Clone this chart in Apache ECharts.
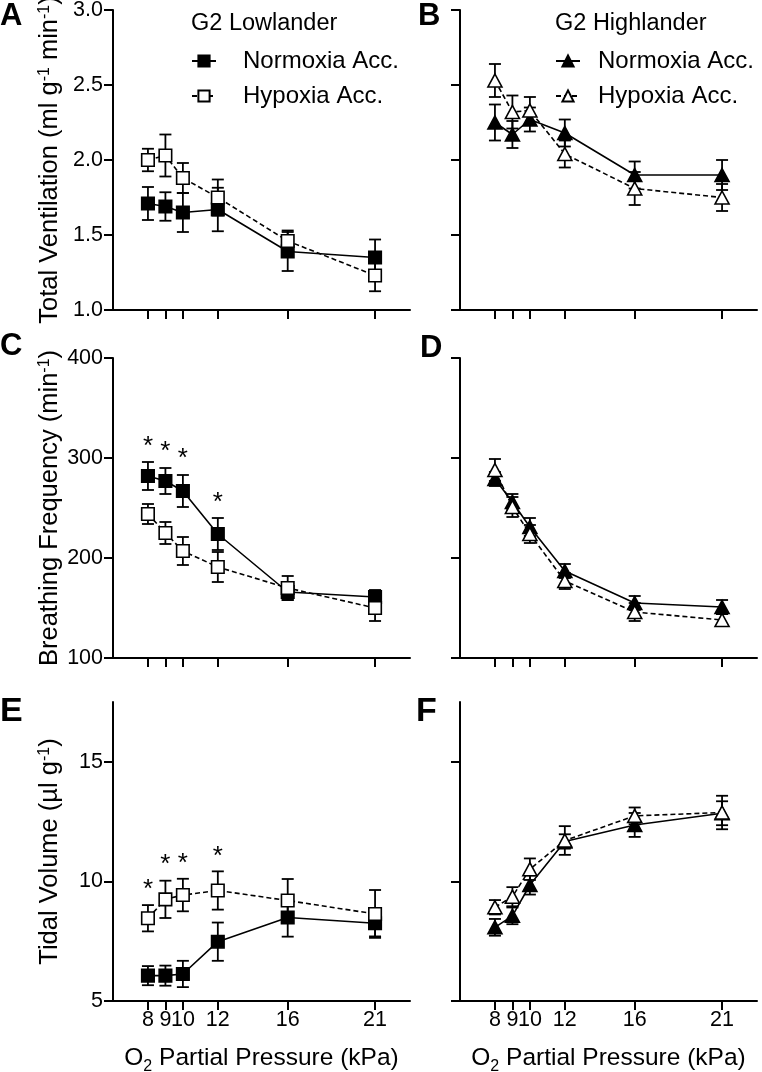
<!DOCTYPE html>
<html>
<head>
<meta charset="utf-8">
<script src="https://cdn.jsdelivr.net/npm/echarts@6/dist/echarts.min.js"></script>
<style>
html,body{margin:0;padding:0;background:#fff;}
#chart{width:762px;height:1072px;}
</style>
</head>
<body>
<div id="chart"></div>
<script>
// ---------- data ----------
const pressure = [8, 9, 10, 12, 16, 21];
const xTickValues = [8, 9, 10, 12, 16, 21];

// Total ventilation (ml g-1 min-1)
const lowNormVent   = [1.71, 1.69, 1.65, 1.67, 1.39, 1.35];
const lowNormVentSE = [0.11, 0.095, 0.13, 0.145, 0.13, 0.12];
const lowHypoVent   = [2.00, 2.03, 1.88, 1.75, 1.46, 1.23];
const lowHypoVentSE = [0.075, 0.14, 0.10, 0.12, 0.07, 0.105];
const highNormVent   = [2.25, 2.17, 2.27, 2.18, 1.90, 1.90];
const highNormVentSE = [0.12, 0.09, 0.08, 0.09, 0.09, 0.10];
const highHypoVent   = [2.53, 2.32, 2.33, 2.04, 1.81, 1.75];
const highHypoVentSE = [0.11, 0.11, 0.09, 0.09, 0.11, 0.09];

// Breathing frequency (min-1)
const lowNormBF   = [282, 277, 267, 224, 166, 161];
const lowNormBFSE = [14, 13, 16, 16, 8, 7];
const lowHypoBF   = [244, 225, 207, 191, 170, 150];
const lowHypoBFSE = [10, 11, 14, 15, 12, 13];
const highNormBF   = [279, 256, 231, 187, 155, 151];
const highNormBFSE = [7, 8, 9, 7, 7, 7];
const highHypoBF   = [288, 251, 224, 177, 146, 138];
const highHypoBFSE = [11, 10, 9, 8, 9, 6];

// Tidal volume (ul g-1)
const lowNormTV   = [6.06, 6.06, 6.13, 7.48, 8.49, 8.25];
const lowNormTVSE = [0.40, 0.42, 0.55, 0.80, 0.80, 0.55];
const lowHypoTV   = [8.46, 9.25, 9.43, 9.62, 9.20, 8.64];
const lowHypoTVSE = [0.55, 0.78, 0.68, 0.80, 0.90, 1.00];
const highNormTV   = [8.08, 8.56, 9.85, 11.67, 12.36, 12.85];
const highNormTVSE = [0.35, 0.35, 0.40, 0.30, 0.50, 0.50];
const highHypoTV   = [8.92, 9.36, 10.51, 11.71, 12.74, 12.88];
const highHypoTVSE = [0.30, 0.40, 0.45, 0.60, 0.35, 0.70];

// significance markers
const bfStarX = [8, 9, 10, 12];
const bfStarY = [318, 313, 306, 262];
const tvStarX = [8, 9, 10, 12];
const tvStarY = [9.92, 10.97, 11.04, 11.32];

const ventTicks = [1.0, 1.5, 2.0, 2.5, 3.0];
const bfTicks = [100, 200, 300, 400];
const tvTicks = [5, 10, 15];

const seriesLabels = {LN: 'Normoxia Acc.', LH: 'Hypoxia Acc.', HN: 'Normoxia Acc.', HH: 'Hypoxia Acc.'};

// ---------- style ----------
const FONT = "'Liberation Sans', Arial, Helvetica, sans-serif";
const BLACK = '#000';

const grids = [
  {left: 113, top: 10, width: 297, height: 300},
  {left: 460, top: 10, width: 297, height: 300},
  {left: 113, top: 358, width: 297, height: 300},
  {left: 460, top: 358, width: 297, height: 300},
  {left: 113, top: 702, width: 297, height: 299},
  {left: 460, top: 702, width: 297, height: 299}
].map(g => Object.assign(g, {outerBoundsMode: 'none', containLabel: false}));

const xNameText = 'O{sub|2} Partial Pressure (kPa)';
function makeX(i, showLabels) {
  return {
    type: 'value', gridIndex: i, min: 6, max: 23,
    axisLine: {lineStyle: {color: BLACK, width: 2}},
    axisTick: {show: true, customValues: xTickValues, length: 9, lineStyle: {color: BLACK, width: 2}},
    axisLabel: {show: showLabels, customValues: xTickValues, margin: 8, fontSize: 21.5, color: BLACK, fontFamily: FONT},
    splitLine: {show: false},
    name: showLabels ? xNameText : '',
    nameLocation: 'middle', nameGap: 40,
    nameTextStyle: {fontSize: 24.5, lineHeight: 34, color: BLACK, fontFamily: FONT,
      rich: {sub: {fontSize: 16, lineHeight: 16, verticalAlign: 'bottom', fontFamily: FONT, color: BLACK}}}
  };
}
function makeY(i, min, max, ticks, showLabels, name, fmt) {
  return {
    type: 'value', gridIndex: i, min: min, max: max,
    axisLine: {show: true, lineStyle: {color: BLACK, width: 2}},
    axisTick: {show: true, customValues: ticks, length: 9, lineStyle: {color: BLACK, width: 2}},
    axisLabel: {show: showLabels, customValues: ticks, margin: 10, fontSize: 21.5, color: BLACK, fontFamily: FONT,
      formatter: fmt || (v => String(v))},
    splitLine: {show: false},
    name: name || '', nameLocation: 'middle', nameGap: 50,
    nameTextStyle: {fontSize: 25.5, color: BLACK, fontFamily: FONT,
      rich: {sup: {fontSize: 16, verticalAlign: 'top', fontFamily: FONT, color: BLACK}}}
  };
}

function errSeries(gi, means, ses) {
  return {
    type: 'custom', xAxisIndex: gi, yAxisIndex: gi, z: 1, silent: true,
    data: pressure.map((p, i) => [p, means[i], ses[i]]),
    encode: {x: 0, y: 1},
    renderItem: function (params, api) {
      const x = api.value(0), m = api.value(1), s = api.value(2);
      const t = api.coord([x, m + s]);
      const b = api.coord([x, m - s]);
      const hw = 6;
      const st = {stroke: BLACK, lineWidth: 1.8};
      return {type: 'group', children: [
        {type: 'line', shape: {x1: t[0], y1: t[1], x2: b[0], y2: b[1]}, style: st},
        {type: 'line', shape: {x1: t[0] - hw, y1: t[1], x2: t[0] + hw, y2: t[1]}, style: st},
        {type: 'line', shape: {x1: b[0] - hw, y1: b[1], x2: b[0] + hw, y2: b[1]}, style: st}
      ]};
    }
  };
}
function lineSeries(gi, name, means, filled, dashed, symbol) {
  return {
    type: 'line', name: name, xAxisIndex: gi, yAxisIndex: gi, z: filled ? 3 : 4,
    data: pressure.map((p, i) => [p, means[i]]),
    symbol: symbol, symbolSize: symbol === 'triangle' ? [14, 13] : 12.5,
    showAllSymbol: true,
    lineStyle: {color: BLACK, width: 1.6, type: dashed ? [5, 3] : 'solid'},
    itemStyle: {color: filled ? BLACK : '#fff', borderColor: BLACK, borderWidth: 1.6},
    emphasis: {disabled: true}
  };
}
function starSeries(gi, xs, ys) {
  return {
    type: 'custom', xAxisIndex: gi, yAxisIndex: gi, z: 5, silent: true,
    data: xs.map((x, i) => [x, ys[i]]),
    encode: {x: 0, y: 1},
    renderItem: function (params, api) {
      const c = api.coord([api.value(0), api.value(1)]);
      return {type: 'text', x: c[0], y: c[1] + 7,
        style: {text: '*', fontSize: 26, fontFamily: FONT, fill: BLACK, align: 'center', verticalAlign: 'middle'}};
    }
  };
}

const letterStyle = {fontSize: 31, fontWeight: 'bold', color: BLACK, fontFamily: FONT};
const groupStyle = {fontSize: 23.5, fontWeight: 'normal', color: BLACK, fontFamily: FONT};

function legendFor(left, names, textPad) {
  return {
    orient: 'vertical', left: left, top: 49, itemWidth: 24, itemHeight: 14, itemGap: 11, padding: 0,
    selectedMode: false, formatter: n => seriesLabels[n], data: names,
    textStyle: {fontSize: 24, lineHeight: 24, color: BLACK, fontFamily: FONT, padding: [0, 0, 0, textPad]}
  };
}

const option = {
  animation: false,
  backgroundColor: '#fff',
  title: [
    {text: 'G2 Lowlander', left: 191, top: 12, padding: 0, textStyle: groupStyle},
    {text: 'G2 Highlander', left: 555, top: 12, padding: 0, textStyle: groupStyle},
    {text: 'A', left: 0, top: 1, padding: 0, textStyle: letterStyle},
    {text: 'B', left: 418, top: 1, padding: 0, textStyle: letterStyle},
    {text: 'C', left: 0, top: 331, padding: 0, textStyle: letterStyle},
    {text: 'D', left: 420, top: 333, padding: 0, textStyle: letterStyle},
    {text: 'E', left: 0, top: 695, padding: 0, textStyle: Object.assign({}, letterStyle, {fontSize: 34})},
    {text: 'F', left: 416, top: 695, padding: 0, textStyle: Object.assign({}, letterStyle, {fontSize: 34})}
  ],
  legend: [
    legendFor(191, ['LN', 'LH'], 22),
    legendFor(555, ['HN', 'HH'], 13)
  ],
  grid: grids,
  xAxis: [makeX(0, false), makeX(1, false), makeX(2, false), makeX(3, false), makeX(4, true), makeX(5, true)],
  yAxis: [
    makeY(0, 1, 3, ventTicks, true, 'Total Ventilation (ml g{sup|-1} min{sup|-1})', v => v.toFixed(1)),
    makeY(1, 1, 3, ventTicks, false),
    makeY(2, 100, 400, bfTicks, true, 'Breathing Frequency (min{sup|-1})'),
    makeY(3, 100, 400, bfTicks, false),
    makeY(4, 5, 17.5, tvTicks, true, 'Tidal Volume (µl g{sup|-1})'),
    makeY(5, 5, 17.5, tvTicks, false)
  ],
  series: [
    errSeries(0, lowNormVent, lowNormVentSE), errSeries(0, lowHypoVent, lowHypoVentSE),
    lineSeries(0, 'LN', lowNormVent, true, false, 'rect'), lineSeries(0, 'LH', lowHypoVent, false, true, 'rect'),
    errSeries(1, highNormVent, highNormVentSE), errSeries(1, highHypoVent, highHypoVentSE),
    lineSeries(1, 'HN', highNormVent, true, false, 'triangle'), lineSeries(1, 'HH', highHypoVent, false, true, 'triangle'),

    errSeries(2, lowNormBF, lowNormBFSE), errSeries(2, lowHypoBF, lowHypoBFSE),
    lineSeries(2, 'LN', lowNormBF, true, false, 'rect'), lineSeries(2, 'LH', lowHypoBF, false, true, 'rect'),
    starSeries(2, bfStarX, bfStarY),
    errSeries(3, highNormBF, highNormBFSE), errSeries(3, highHypoBF, highHypoBFSE),
    lineSeries(3, 'HN', highNormBF, true, false, 'triangle'), lineSeries(3, 'HH', highHypoBF, false, true, 'triangle'),

    errSeries(4, lowNormTV, lowNormTVSE), errSeries(4, lowHypoTV, lowHypoTVSE),
    lineSeries(4, 'LN', lowNormTV, true, false, 'rect'), lineSeries(4, 'LH', lowHypoTV, false, true, 'rect'),
    starSeries(4, tvStarX, tvStarY),
    errSeries(5, highNormTV, highNormTVSE), errSeries(5, highHypoTV, highHypoTVSE),
    lineSeries(5, 'HN', highNormTV, true, false, 'triangle'), lineSeries(5, 'HH', highHypoTV, false, true, 'triangle')
  ]
};

const chart = echarts.init(document.getElementById('chart'), null, {renderer: 'canvas'});
chart.setOption(option);
</script>
</body>
</html>
